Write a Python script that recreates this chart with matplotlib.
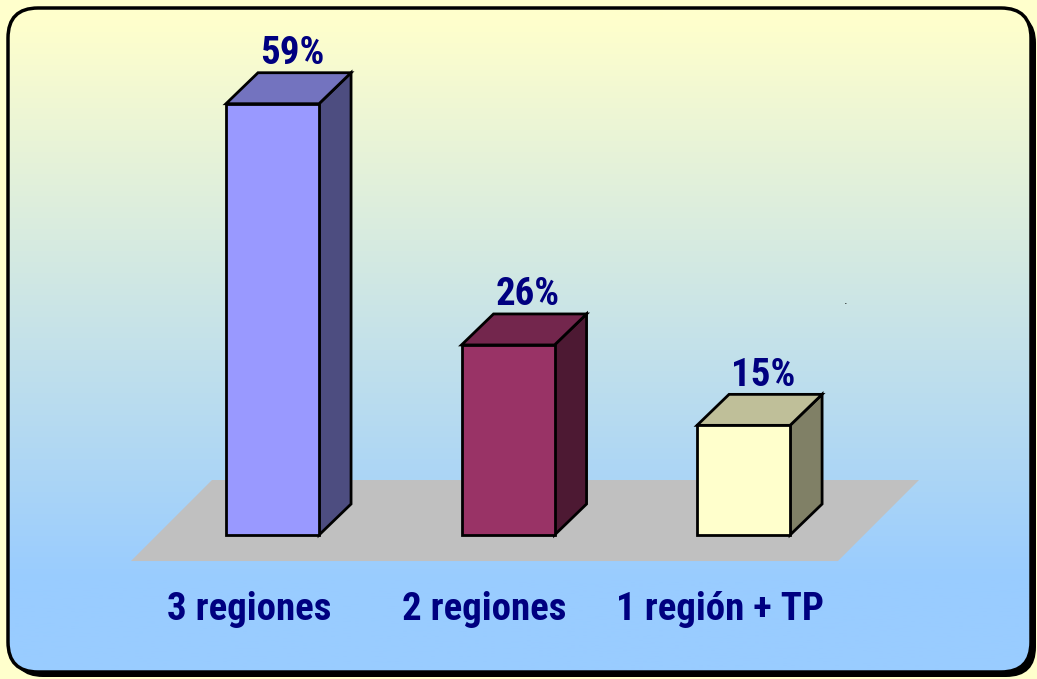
import numpy as np
import matplotlib
matplotlib.use("Agg")
import matplotlib.pyplot as plt
from matplotlib.patches import Polygon, FancyBboxPatch

# ---- data ----
categories = ["3 regiones", "2 regiones", "1 región + TP"]
values = [59, 26, 15]
value_labels = ["59%", "26%", "15%"]

front_colors = ["#9999FF", "#993366", "#FFFFCC"]
top_colors = ["#7373BF", "#73264D", "#BFBF99"]
side_colors = ["#4D4D80", "#4D1933", "#808066"]
navy = "#000080"
FAM = ["Roboto Condensed", "DejaVu Sans"]

W, H = 1037, 679
fig = plt.figure(figsize=(W / 100, H / 100), dpi=100)
fig.patch.set_facecolor("#FFFFCC")

# ---- decoration layer in pixel coords ----
bg = fig.add_axes([0, 0, 1, 1])
bg.set_xlim(0, W)
bg.set_ylim(H, 0)
bg.axis("off")
x0, y0, x1, y1 = 8, 8, 1031, 672
r = 30
shadow = FancyBboxPatch((x0 + 5, y0 + 5), x1 - x0, y1 - y0,
                        boxstyle=f"round,pad=0,rounding_size={r}",
                        fc="black", ec="black", lw=0, zorder=1)
bg.add_patch(shadow)
frame = FancyBboxPatch((x0, y0), x1 - x0, y1 - y0,
                       boxstyle=f"round,pad=0,rounding_size={r}",
                       fc="none", ec="black", lw=2.5, zorder=3)
ypix = np.linspace(y0, y1, 400)
t = np.clip((ypix - 20) / 560.0, 0, 1)[:, None]
c_top = np.array([255, 255, 204]) / 255
c_bot = np.array([153, 204, 255]) / 255
img = c_top[None, None, :] * (1 - t[:, :, None]) + c_bot[None, None, :] * t[:, :, None]
im = bg.imshow(img, extent=(x0, x1, y1, y0), aspect="auto", zorder=2)
clipper = FancyBboxPatch((x0, y0), x1 - x0, y1 - y0,
                         boxstyle=f"round,pad=0,rounding_size={r}",
                         fc="none", ec="none", transform=bg.transData)
bg.add_patch(clipper)
im.set_clip_path(clipper)
bg.add_patch(frame)

# ---- chart layer in data coords (x: category index, y: percent) ----
ax = fig.add_axes([0, 0, 1, 1])
ax.patch.set_alpha(0)
ax.set_xlim(-1.157, 3.246)
ax.set_ylim(-19.70, 73.19)
ax.axis("off")

bw = 0.395          # bar front width
ddx, ddy = 0.136, 4.24   # bar depth offset

# floor
fdx, fdy = 0.344, 11.08
fl, fr, fy = -0.601, 2.401, -3.56
floor = Polygon([(fl, fy), (fr, fy), (fr + fdx, fy + fdy), (fl + fdx, fy + fdy)],
                closed=True, fc="#C0C0C0", ec="none", zorder=1)
ax.add_patch(floor)

xs = np.arange(len(values))
for i, v in zip(xs, values):
    L, R = i - bw / 2, i + bw / 2
    front = Polygon([(L, 0), (R, 0), (R, v), (L, v)], closed=True,
                    fc=front_colors[i], ec="black", lw=2, zorder=3, joinstyle="miter")
    top = Polygon([(L, v), (R, v), (R + ddx, v + ddy), (L + ddx, v + ddy)], closed=True,
                  fc=top_colors[i], ec="black", lw=2, zorder=3, joinstyle="miter")
    side = Polygon([(R, 0), (R + ddx, ddy), (R + ddx, v + ddy), (R, v)], closed=True,
                   fc=side_colors[i], ec="black", lw=2, zorder=3, joinstyle="miter")
    for p in (side, top, front):
        ax.add_patch(p)
    ax.text(i + 0.085, v + ddy + 1.2, value_labels[i], ha="center", va="baseline",
            fontsize=28, fontweight="bold", color=navy, family=FAM, zorder=4)
    ax.text(i - 0.10, -10.2, categories[i], ha="center", va="center",
            fontsize=28, fontweight="bold", color=navy, family=FAM, zorder=4)

ax.text(2.435, 31.6, ".", ha="center", va="baseline", fontsize=8, color="black")

fig.savefig("out.png", dpi=100)
